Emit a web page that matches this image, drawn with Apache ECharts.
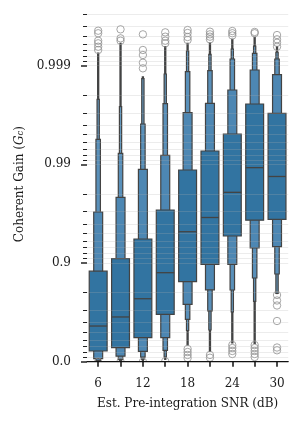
<!DOCTYPE html>
<html><head><meta charset="utf-8">
<script src="https://cdn.jsdelivr.net/npm/echarts@6/dist/echarts.min.js"></script>
<style>html,body{margin:0;padding:0;background:#fff}#c{width:302px;height:423px}</style>
</head><body><div id="c"></div>
<script>
// ---- data (Coherent Gain G_c per SNR bin) ----
const snrCategories = ['6','9','12','15','18','21','24','27','30'];
const yMajorTickValues = [0, 0.9, 0.99, 0.999];
const yMajorTickLabels = ['0.0', '0.9', '0.99', '0.999'];
const yMinorTickValues = [0.1,0.2,0.3,0.4,0.5,0.6,0.7,0.8,
  0.91,0.92,0.93,0.94,0.95,0.96,0.97,0.98,
  0.991,0.992,0.993,0.994,0.995,0.996,0.997,0.998,
  0.9991,0.9992,0.9993,0.9994,0.9995,0.9996,0.9997];

const medianGain = [0.565, 0.648, 0.770, 0.8747, 0.95186, 0.96544, 0.9808, 0.9892, 0.98673];
const level1Low  = [0.221, 0.279, 0.429, 0.669, 0.8454, 0.897, 0.9468, 0.9632, 0.96397];
const level1High = [0.879, 0.9096, 0.94293, 0.9710, 0.9886, 0.99268, 0.995075, 0.997556, 0.996962];
const level2Low  = [0.068, 0.120, 0.2155, 0.429, 0.738, 0.8133, 0.897, 0.92959, 0.93168];
const level2High = [0.9696, 0.97843, 0.98878, 0.9919, 0.997005, 0.997595, 0.998236, 0.998894, 0.998766];
const level3Low  = [0.028, 0.054, 0.0997, 0.2335, 0.6283, 0.6951, 0.8124, 0.8582, 0.8708];
const level3High = [0.99443, 0.99228, 0.9961, 0.997572, 0.99885, 0.998876, 0.999145, 0.999251, 0.999145];
const level4Low  = [0.012, 0.023, 0.050, 0.104, 0.517, 0.5228, 0.6865, 0.7557, 0.7964];
const level4High = [0.997807, 0.997397, 0.998645, 0.998786, 0.99929, 0.999234, 0.999323, 0.999368, 0.999269];
const tailLow    = [0.005, 0.009, 0.028, 0.050, 0.3225, 0.212, 0.3535, 0.349, 0.7964];
const tailHigh   = [0.999256, 0.999407, 0.99870, 0.999358, 0.999407, 0.999411, 0.99946, 0.999484, 0.999358];

const outlierGain = [
  [0.999558, 0.999531, 0.999442, 0.999407, 0.999358, 0.999307, 0.0],
  [0.999572, 0.999472, 0.999442, 0.0],
  [0.999519, 0.999307, 0.999221, 0.999067, 0.998937, 0.0],
  [0.999541, 0.999492, 0.999442, 0.999407, 0.01],
  [0.999565, 0.999534, 0.999488, 0.999451, 0.2565, 0.2028, 0.145, 0.0827],
  [0.999548, 0.999519, 0.999492, 0.99946, 0.145, 0.089],
  [0.999555, 0.999531, 0.999506, 0.3225, 0.2735, 0.221, 0.1643],
  [0.999545, 0.999531, 0.3225, 0.2735, 0.221, 0.1643, 0.104],
  [0.999511, 0.99946, 0.999415, 0.999358, 0.7891, 0.7603, 0.7306, 0.6132, 0.282, 0.2335]
];

// ---- scale transform: t = -log10(1 - G) ----
const tf = g => -Math.log10(1 - g);

const boxRows = snrCategories.map((c, i) => [i,
  tf(level1Low[i]), tf(level1High[i]),
  tf(level2Low[i]), tf(level2High[i]),
  tf(level3Low[i]), tf(level3High[i]),
  tf(level4Low[i]), tf(level4High[i]),
  tf(tailLow[i]), tf(tailHigh[i]),
  tf(medianGain[i])]);
const outlierRows = [];
outlierGain.forEach((arr, i) => arr.forEach(g => outlierRows.push([i, tf(g)])));

const FONT = 'DejaVu Serif';
const EDGE = '#434343';
const widths = [0.8, 0.4, 0.2, 0.1, 0.05];
const fills = ['#3274a1', '#4d87b3', '#5990ba', '#659ac1', '#70a1c6'];

function renderBoxen(params, api) {
  const i = api.value(0);
  const band = api.size([1, 0])[0];
  const children = [];
  for (let L = 4; L >= 0; L--) {
    const lo = api.coord([i, api.value(1 + 2 * L)]);
    const hi = api.coord([i, api.value(2 + 2 * L)]);
    const w = band * widths[L];
    children.push({type: 'rect',
      shape: {x: lo[0] - w / 2, y: hi[1], width: w, height: lo[1] - hi[1]},
      style: {fill: fills[L], stroke: EDGE, lineWidth: 1.2}});
  }
  const m = api.coord([i, api.value(11)]);
  const w1 = band * widths[0];
  children.push({type: 'line',
    shape: {x1: m[0] - w1 / 2, y1: m[1], x2: m[0] + w1 / 2, y2: m[1]},
    style: {stroke: EDGE, lineWidth: 1.3}});
  return {type: 'group', children};
}
function renderOutlier(params, api) {
  const p = api.coord([api.value(0), api.value(1)]);
  return {type: 'circle', shape: {cx: p[0], cy: p[1], r: 3.7},
    style: {fill: 'none', stroke: '#8f8f8f', lineWidth: 0.8}};
}

const YMAX = 3.6;
const gridLine = {show: true, lineStyle: {color: 'rgba(176,176,176,0.3)', width: 0.8}};

const chart = echarts.init(document.getElementById('c'), null, {renderer: 'canvas'});
chart.setOption({
  animation: false,
  backgroundColor: '#fff',
  grid: {left: 87, right: 13.8, top: 6.5, bottom: 61.3, containLabel: false},
  xAxis: {
    type: 'category', data: snrCategories, boundaryGap: true, z: 10,
    axisLine: {show: true, lineStyle: {color: '#111', width: 1.25}},
    axisTick: {show: true, alignWithLabel: true, interval: 0, length: 5, lineStyle: {color: '#111', width: 1.5}},
    axisLabel: {interval: (idx) => idx % 2 === 0, margin: 16, fontFamily: FONT, fontSize: 12, color: '#1a1a1a'},
    splitLine: {show: false},
    name: 'Est. Pre-integration SNR (dB)', nameLocation: 'middle', nameGap: 36,
    nameTextStyle: {fontFamily: FONT, fontSize: 12, color: '#1a1a1a'}
  },
  yAxis: [{
    type: 'value', min: 0, max: YMAX, position: 'left', z: 10,
    axisLine: {show: false},
    axisTick: {show: true, length: 6, customValues: yMajorTickValues.map(tf), lineStyle: {color: '#222', width: 1.5}},
    axisLabel: {customValues: yMajorTickValues.map(tf), margin: 16, fontFamily: FONT, fontSize: 12, color: '#1a1a1a',
      formatter: (v) => { const k = yMajorTickValues.findIndex(g => Math.abs(tf(g) - v) < 1e-6); return k >= 0 ? yMajorTickLabels[k] : ''; }},
    splitLine: gridLine,
    name: '{a|Coherent Gain (}{i|G}{s|c}{a|)}', nameLocation: 'middle', nameGap: 61,
    nameTextStyle: {fontFamily: FONT, fontSize: 12, color: '#1a1a1a',
      rich: {a: {fontFamily: FONT, fontSize: 12, color: '#1a1a1a'},
             i: {fontFamily: FONT, fontSize: 12, fontStyle: 'italic', color: '#1a1a1a'},
             s: {fontFamily: FONT, fontSize: 8.5, fontStyle: 'italic', color: '#1a1a1a', verticalAlign: 'bottom'}}}
  }, {
    type: 'value', min: 0, max: YMAX, position: 'left', offset: 0, z: 10,
    axisLine: {show: false},
    axisTick: {show: true, length: 4, customValues: yMinorTickValues.map(tf), lineStyle: {color: '#222', width: 1}},
    axisLabel: {show: false},
    splitLine: gridLine
  }],
  series: [{
    type: 'custom', renderItem: renderBoxen, data: boxRows, xAxisIndex: 0, yAxisIndex: 0,
    encode: {x: 0, y: [1, 2, 3, 4, 5, 6, 7, 8, 9, 10, 11]}, z: 2
  }, {
    type: 'custom', renderItem: renderOutlier, data: outlierRows, xAxisIndex: 0, yAxisIndex: 0,
    encode: {x: 0, y: 1}, clip: true, z: 3
  }]
});
</script></body></html>
